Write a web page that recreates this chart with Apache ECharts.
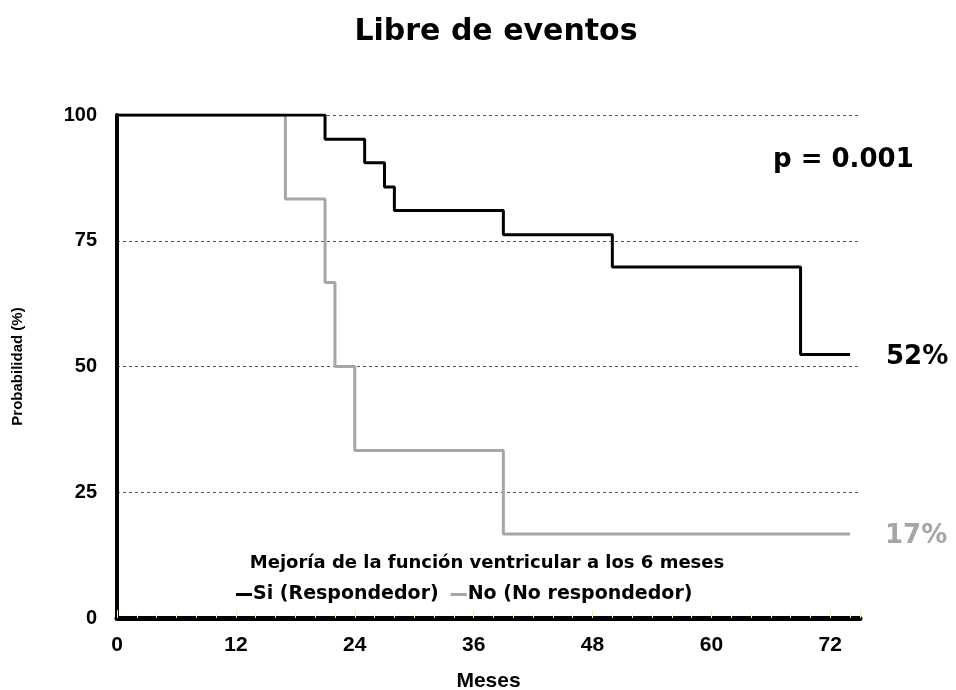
<!DOCTYPE html>
<html>
<head>
<meta charset="utf-8">
<script src="https://cdn.jsdelivr.net/npm/echarts@6/dist/echarts.min.js"></script>
<style>html,body{margin:0;padding:0;background:#fff}#c{width:956px;height:690px}</style>
</head>
<body>
<div id="c"></div>
<script>
const titleText = 'Libre de eventos';
const xName = 'Meses';
const yName = 'Probabilidad (%)';
const legendTitle = 'Mejoría de la función ventricular a los 6 meses';
const seriesNames = ['Si (Respondedor)', 'No (No respondedor)'];
const siMonths = [0, 21, 25, 27, 28, 39, 50, 69, 74];
const siValues = [100, 95.2, 90.5, 85.7, 81.0, 76.2, 69.8, 52.4, 52.4];
const noMonths = [0, 17, 21, 22, 24, 39, 74];
const noValues = [100, 83.3, 66.7, 50.0, 33.3, 16.7, 16.7];
const pText = 'p = 0.001';
const siEndLabel = '52%';
const noEndLabel = '17%';

const chart = echarts.init(document.getElementById('c'));
const ff = 'Liberation Sans, Arial, sans-serif';
const dv = 'DejaVu Sans, Verdana, sans-serif';
chart.setOption({
  animation: false,
  backgroundColor: '#fff',
  grid: {left: 117, right: 96, top: 115, bottom: 72, containLabel: false, outerBoundsMode: 'none'},
  legend: {
    data: seriesNames, left: 231, top: 580, icon: 'rect', itemWidth: 16, itemHeight: 3, itemGap: 12,
    textStyle: {fontFamily: dv, fontWeight: 'bold', fontSize: 19, color: '#000', padding: [0, 0, 0, -4]}
  },
  xAxis: {
    type: 'value', min: 0, max: 75, interval: 12,
    name: xName, nameLocation: 'middle', nameGap: 53,
    nameTextStyle: {fontFamily: ff, fontWeight: 'bold', fontSize: 21, color: '#000'},
    axisLine: {lineStyle: {color: '#000', width: 5}},
    axisTick: {show: true, inside: true, length: 8, lineStyle: {color: '#f2f28a', width: 1}},
    minorTick: {show: true, splitNumber: 6, length: 4, lineStyle: {color: '#f2f28a', width: 1}},
    axisLabel: {fontFamily: ff, fontWeight: 'bold', fontSize: 21, color: '#000', margin: 17, showMaxLabel: false},
    splitLine: {show: false}
  },
  yAxis: {
    type: 'value', min: 0, max: 100, interval: 25,
    name: yName, nameLocation: 'middle', nameGap: 92, nameRotate: 90,
    nameTextStyle: {fontFamily: ff, fontWeight: 'bold', fontSize: 15, color: '#000'},
    axisLine: {show: true, lineStyle: {color: '#000', width: 4}},
    axisTick: {show: false},
    axisLabel: {fontFamily: ff, fontWeight: 'bold', fontSize: 20, color: '#000', margin: 20},
    splitLine: {show: true, lineStyle: {color: '#555', type: [3, 3], width: 1}}
  },
  graphic: [
    {type: 'text', x: 496, y: 32, style: {text: titleText, align: 'center', verticalAlign: 'middle', fontFamily: dv, fontWeight: 'bold', fontSize: 30, fill: '#000'}},
    {type: 'text', x: 487, y: 563, style: {text: legendTitle, align: 'center', verticalAlign: 'middle', fontFamily: dv, fontWeight: 'bold', fontSize: 18, fill: '#000'}},
    {type: 'text', x: 773, y: 160, style: {text: pText, verticalAlign: 'middle', fontFamily: dv, fontWeight: 'bold', fontSize: 26, fill: '#000'}},
    {type: 'text', x: 886, y: 357, style: {text: siEndLabel, verticalAlign: 'middle', fontFamily: dv, fontWeight: 'bold', fontSize: 26, fill: '#000'}},
    {type: 'text', x: 885, y: 536, style: {text: noEndLabel, verticalAlign: 'middle', fontFamily: dv, fontWeight: 'bold', fontSize: 26, fill: '#a6a6a6'}}
  ],
  series: [
    {
      name: seriesNames[1], type: 'line', step: 'end', symbol: 'none',
      data: noMonths.map((m, i) => [m, noValues[i]]),
      lineStyle: {color: '#a6a6a6', width: 3}, itemStyle: {color: '#a6a6a6'}, z: 2
    },
    {
      name: seriesNames[0], type: 'line', step: 'end', symbol: 'none',
      data: siMonths.map((m, i) => [m, siValues[i]]),
      lineStyle: {color: '#000', width: 3}, itemStyle: {color: '#000'}, z: 3
    }
  ]
});
</script>
</body>
</html>
